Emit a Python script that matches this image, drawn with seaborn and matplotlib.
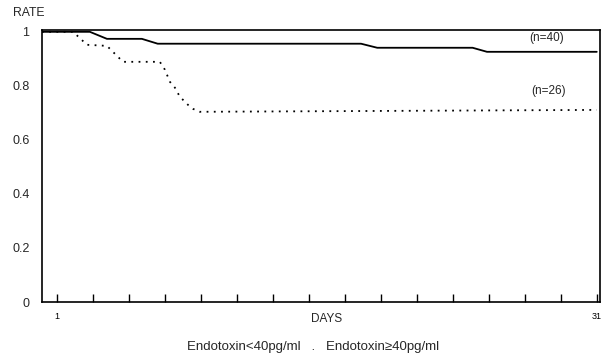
import numpy as np
import pandas as pd
import matplotlib
matplotlib.use("Agg")
import matplotlib.pyplot as plt
import seaborn as sns

# survival curves
days_low = [0.17, 2.83, 3.78, 5.72, 6.6, 17.9, 18.8, 24.1, 24.9, 31.0]
rate_low = [1.0, 1.0, 0.974, 0.974, 0.956, 0.956, 0.941, 0.941, 0.926, 0.926]

days_high = [0.17, 1.9, 2.67, 3.78, 4.67, 6.72, 7.0, 7.28, 7.56, 7.83, 8.28, 8.56, 8.94, 31.0]
rate_high = [1.0, 1.0, 0.952, 0.948, 0.889, 0.889, 0.86, 0.815, 0.793, 0.76, 0.73, 0.715, 0.704, 0.711]

x_ticks = list(range(1, 32, 2))
x_labels = ["1"] + [""] * 14 + ["31"]
y_ticks = [0, 0.2, 0.4, 0.6, 0.8, 1]
y_labels = ["0", "0.2", "0.4", "0.6", "0.8", "1"]

df = pd.concat([
    pd.DataFrame({"day": days_low, "rate": rate_low, "group": "low"}),
    pd.DataFrame({"day": days_high, "rate": rate_high, "group": "high"}),
])

sns.set_style("white")
plt.rcParams["font.family"] = ["Liberation Sans", "DejaVu Sans"]

fig = plt.figure(figsize=(6.11, 3.58), dpi=100)
ax = fig.add_axes([0.0687, 0.1564, 0.913, 0.760])

sns.lineplot(data=df, x="day", y="rate", hue="group", style="group",
             palette={"low": "black", "high": "black"},
             dashes={"low": "", "high": (1, 3)},
             estimator=None, sort=False, linewidth=1.3, legend=False, ax=ax)

ax.set_xlim(0.17, 31.17)
ax.set_ylim(0, 1.007)
ax.set_xticks(x_ticks)
ax.set_xticklabels(x_labels, fontsize=6.5)
ax.set_yticks(y_ticks)
ax.set_yticklabels(y_labels, fontsize=9)
ax.tick_params(axis="x", bottom=True, direction="in", length=6, width=1, pad=7, colors="black")
ax.tick_params(axis="y", left=False, length=0, pad=9)
for s in ax.spines.values():
    s.set_color("black")
    s.set_linewidth(1.2)

ax.set_xlabel("")
ax.set_ylabel("")
fig.text(0.0213, 0.965, "RATE", fontsize=8.8, va="center", ha="left")
fig.text(0.535, 0.109, "DAYS", fontsize=8.5, va="center", ha="center")
ax.text(28.2, 0.977, "(n=40)", fontsize=8.5, ha="center", va="center")
ax.text(28.3, 0.78, "(n=26)", fontsize=8.5, ha="center", va="center")
fig.text(0.512, 0.031, "Endotoxin<40pg/ml   .   Endotoxin\u226540pg/ml",
         fontsize=9.5, ha="center", va="center")

fig.savefig("out.png", dpi=100)
